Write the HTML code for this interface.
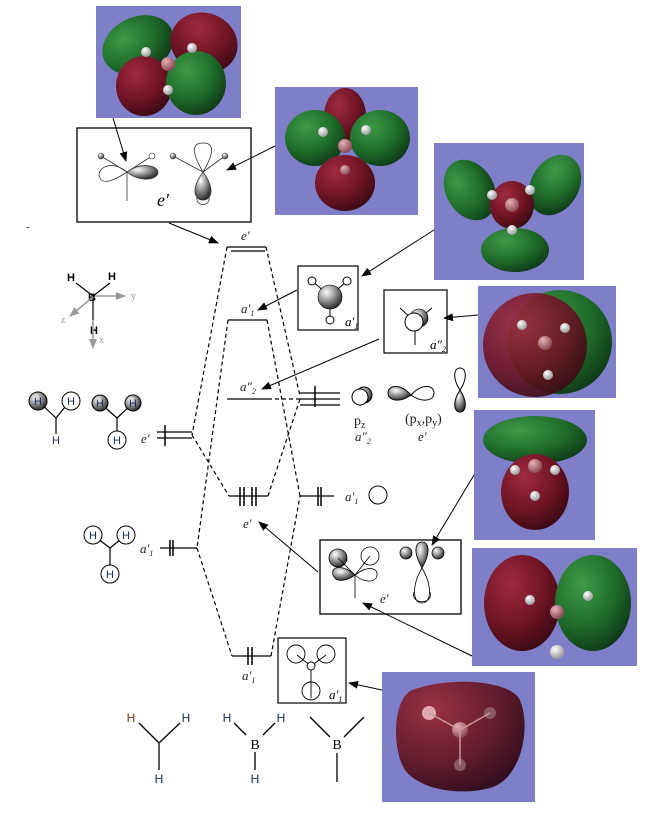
<!DOCTYPE html>
<html><head><meta charset="utf-8"><style>
html,body{margin:0;padding:0;background:#fff;}
svg{display:block;font-family:"Liberation Serif",serif;}
.s{font-family:"Liberation Sans",sans-serif;}
</style></head><body>
<svg width="665" height="816" viewBox="0 0 665 816" xmlns="http://www.w3.org/2000/svg">
<defs>
<radialGradient id="gr" cx="35%" cy="30%" r="75%"><stop offset="0" stop-color="#3e9a46"/><stop offset="0.6" stop-color="#1f6b2a"/><stop offset="1" stop-color="#0f3a18"/></radialGradient>
<radialGradient id="rd" cx="35%" cy="30%" r="75%"><stop offset="0" stop-color="#a02a40"/><stop offset="0.6" stop-color="#6e1424"/><stop offset="1" stop-color="#3a0a14"/></radialGradient>
<radialGradient id="rd2" cx="30%" cy="25%" r="80%"><stop offset="0" stop-color="#9a3046"/><stop offset="0.7" stop-color="#5a1a2a"/><stop offset="1" stop-color="#351020"/></radialGradient>
<radialGradient id="at" cx="35%" cy="30%" r="70%"><stop offset="0" stop-color="#e8b0b8"/><stop offset="1" stop-color="#8a4a56"/></radialGradient>
<radialGradient id="hw" cx="35%" cy="30%" r="70%"><stop offset="0" stop-color="#fff"/><stop offset="1" stop-color="#9a9a9a"/></radialGradient>
<radialGradient id="gs" cx="35%" cy="30%" r="70%"><stop offset="0" stop-color="#fff"/><stop offset="1" stop-color="#333"/></radialGradient>
<marker id="ar" markerWidth="10" markerHeight="8" refX="9" refY="4" orient="auto" markerUnits="userSpaceOnUse"><path d="M0,0 L10,4 L0,8 z" fill="#000"/></marker>
<marker id="ag" markerWidth="10" markerHeight="8" refX="9" refY="4" orient="auto" markerUnits="userSpaceOnUse"><path d="M0,0 L10,4 L0,8 z" fill="#999"/></marker>
</defs>

<!-- purple panels -->
<rect x="96" y="6" width="145" height="112" fill="#7f7fc9"/>
<ellipse cx="138" cy="45" rx="37" ry="28" fill="url(#gr)" transform="rotate(-25 138 45)"/>
<ellipse cx="204" cy="43" rx="34" ry="30" fill="url(#rd)" transform="rotate(20 204 43)"/>
<ellipse cx="144" cy="86" rx="28" ry="30" fill="url(#rd)"/>
<ellipse cx="196" cy="83" rx="30" ry="32" fill="url(#gr)"/>
<circle cx="168" cy="64" r="7" fill="url(#at)"/><circle cx="146" cy="52" r="5" fill="url(#hw)"/><circle cx="192" cy="48" r="5" fill="url(#hw)"/><circle cx="168" cy="90" r="5" fill="url(#hw)"/>

<rect x="275" y="87" width="143" height="128" fill="#7f7fc9"/>
<ellipse cx="345" cy="116" rx="21" ry="28" fill="url(#rd)"/>
<ellipse cx="315" cy="138" rx="30" ry="28" fill="url(#gr)"/>
<ellipse cx="380" cy="138" rx="30" ry="28" fill="url(#gr)"/>
<ellipse cx="345" cy="183" rx="30" ry="28" fill="url(#rd)"/>
<circle cx="345" cy="146" r="7" fill="url(#at)"/><circle cx="323" cy="132" r="5" fill="url(#hw)"/><circle cx="366" cy="130" r="5" fill="url(#hw)"/><circle cx="345" cy="170" r="5" fill="url(#at)"/>

<rect x="434" y="143" width="150" height="137" fill="#7f7fc9"/>
<ellipse cx="470" cy="190" rx="24" ry="32" fill="url(#gr)" transform="rotate(-30 470 190)"/>
<ellipse cx="555" cy="185" rx="24" ry="32" fill="url(#gr)" transform="rotate(30 555 185)"/>
<ellipse cx="515" cy="250" rx="34" ry="22" fill="url(#gr)"/>
<ellipse cx="512" cy="205" rx="22" ry="24" fill="url(#rd)"/>
<circle cx="512" cy="205" r="7" fill="url(#at)"/><circle cx="492" cy="195" r="5" fill="url(#hw)"/><circle cx="530" cy="190" r="5" fill="url(#hw)"/><circle cx="512" cy="230" r="5" fill="url(#hw)"/>

<rect x="478" y="286" width="138" height="112" fill="#7f7fc9"/>
<circle cx="560" cy="342" r="52" fill="url(#gr)"/>
<circle cx="535" cy="345" r="52" fill="url(#rd)" fill-opacity="0.9"/>
<circle cx="545" cy="343" r="7" fill="url(#at)"/><circle cx="522" cy="325" r="5" fill="url(#hw)"/><circle cx="565" cy="328" r="5" fill="url(#hw)"/><circle cx="548" cy="375" r="5" fill="url(#hw)"/>

<rect x="474" y="410" width="121" height="130" fill="#7f7fc9"/>
<ellipse cx="535" cy="440" rx="52" ry="24" fill="url(#gr)"/>
<ellipse cx="535" cy="492" rx="34" ry="38" fill="url(#rd)"/>
<circle cx="535" cy="466" r="7" fill="url(#at)"/><circle cx="515" cy="470" r="5" fill="url(#hw)"/><circle cx="555" cy="470" r="5" fill="url(#hw)"/><circle cx="535" cy="496" r="5" fill="url(#hw)"/>

<rect x="472" y="548" width="165" height="118" fill="#7f7fc9"/>
<ellipse cx="522" cy="603" rx="38" ry="48" fill="url(#rd)"/>
<ellipse cx="593" cy="603" rx="38" ry="48" fill="url(#gr)"/>
<circle cx="557" cy="612" r="7" fill="url(#at)"/><circle cx="530" cy="600" r="5" fill="url(#hw)"/><circle cx="588" cy="596" r="5" fill="url(#hw)"/><circle cx="557" cy="652" r="7" fill="url(#hw)"/>

<rect x="382" y="672" width="153" height="130" fill="#7f7fc9"/>
<path d="M412,690 C450,676 510,680 520,700 C532,730 520,780 490,788 C460,796 420,790 405,770 C392,750 392,700 412,690 z" fill="url(#rd2)"/>
<circle cx="429" cy="713" r="7" fill="#e0a8b0"/><circle cx="460" cy="730" r="8" fill="url(#at)"/><circle cx="490" cy="713" r="6" fill="#8a5a62"/><circle cx="460" cy="765" r="6" fill="#8a5a62"/>
<line x1="429" y1="713" x2="460" y2="730" stroke="#c99" stroke-width="1.5"/><line x1="460" y1="730" x2="490" y2="713" stroke="#c99" stroke-width="1.5"/><line x1="460" y1="730" x2="460" y2="765" stroke="#c99" stroke-width="1.5"/>

<!-- box 1 (e' antibonding) -->
<rect x="77" y="128" width="174" height="94" fill="#fff" stroke="#000" stroke-width="1.3"/>
<g stroke="#333" fill="none" stroke-width="0.8">
<line x1="101" y1="156" x2="127" y2="172"/><line x1="152" y1="156" x2="127" y2="172"/><line x1="127" y1="172" x2="127" y2="201"/>
<path d="M127,172 C110,158 95,170 100,178 C104,186 118,178 127,172z"/>
<line x1="173" y1="156" x2="203" y2="172"/><line x1="225" y1="156" x2="203" y2="172"/>
<path d="M203,172 C190,150 193,143 203,143 C213,143 216,150 203,172z"/>
<path d="M197,197 C195,207 211,207 209,197"/>
</g>
<path d="M127,172 C140,162 157,165 158,172 C158,180 140,183 127,172z" fill="url(#gs)" stroke="#333" stroke-width="0.8"/>
<path d="M203,172 C190,190 195,200 203,200 C211,200 216,190 203,172z" fill="url(#gs)" stroke="#333" stroke-width="0.8"/>
<circle cx="101" cy="156" r="3" fill="url(#gs)" stroke="#333" stroke-width="0.5"/><circle cx="152" cy="156" r="3" fill="#fff" stroke="#333" stroke-width="0.6"/>
<circle cx="173" cy="156" r="3" fill="url(#gs)" stroke="#333" stroke-width="0.5"/><circle cx="225" cy="156" r="3" fill="url(#gs)" stroke="#333" stroke-width="0.5"/>
<text x="157" y="206" font-size="18" font-style="italic">e′</text>

<!-- a1' box -->
<rect x="298" y="266" width="60" height="64" fill="#fff" stroke="#000" stroke-width="1.2"/>
<line x1="312" y1="281" x2="330" y2="296" stroke="#000"/><line x1="347" y1="281" x2="330" y2="296" stroke="#000"/><line x1="330" y1="296" x2="330" y2="320" stroke="#000"/>
<circle cx="330" cy="297" r="12" fill="url(#gs)" stroke="#000" stroke-width="0.6"/>
<circle cx="312" cy="281" r="4" fill="#fff" stroke="#000"/><circle cx="347" cy="281" r="4" fill="#fff" stroke="#000"/><circle cx="330" cy="320" r="4" fill="#fff" stroke="#000"/>
<text x="345" y="326" font-size="13" font-style="italic">a′<tspan font-size="8" dy="3">1</tspan></text>

<!-- a2'' box -->
<rect x="384" y="290" width="63" height="63" fill="#fff" stroke="#000" stroke-width="1.2"/>
<line x1="400" y1="308" x2="415" y2="322" stroke="#000"/><line x1="432" y1="308" x2="415" y2="322" stroke="#000"/><line x1="415" y1="322" x2="415" y2="345" stroke="#000"/>
<circle cx="419" cy="318" r="9" fill="url(#gs)" stroke="#000" stroke-width="0.6"/>
<circle cx="414" cy="322" r="9" fill="#fff" stroke="#000"/>
<text x="430" y="349" font-size="13" font-style="italic">a″<tspan font-size="8" dy="3">2</tspan></text>

<!-- e' box bottom -->
<rect x="320" y="540" width="141" height="74" fill="#fff" stroke="#000" stroke-width="1.3"/>
<g stroke="#000" stroke-width="0.8">
<line x1="355" y1="575" x2="355" y2="598"/>
<path d="M355,575 C345,565 330,565 333,575 C336,584 348,580 355,575z" fill="url(#gs)"/>
<path d="M355,575 C368,565 378,568 377,575 C376,584 362,582 355,575z" fill="#fff"/>
<circle cx="338" cy="558" r="9" fill="url(#gs)"/><circle cx="370" cy="556" r="9" fill="#fff"/>
<line x1="338" y1="558" x2="355" y2="575"/><line x1="370" y1="556" x2="355" y2="575"/>
<path d="M422,568 C412,550 416,542 422,542 C428,542 432,550 422,568z" fill="url(#gs)"/>
<circle cx="406" cy="553" r="6" fill="url(#gs)"/><circle cx="438" cy="553" r="6" fill="url(#gs)"/>
<path d="M422,568 C412,585 412,603 422,603 C432,603 432,585 422,568z" fill="#fff"/>
<path d="M414,592 C410,605 434,605 430,592" fill="none"/>
</g>
<text x="380" y="603" font-size="13" font-style="italic" fill="#223">e′</text>

<!-- a1' bottom box -->
<rect x="278" y="638" width="68" height="65" fill="#fff" stroke="#000" stroke-width="1.2"/>
<g stroke="#000" fill="#fff" stroke-width="0.9">
<line x1="297" y1="655" x2="311" y2="666"/><line x1="326" y1="655" x2="311" y2="666"/><line x1="311" y1="666" x2="311" y2="698"/>
<circle cx="296" cy="654" r="9" fill="none"/><circle cx="326" cy="654" r="9" fill="none"/><circle cx="311" cy="691" r="9" fill="none"/><circle cx="311" cy="666" r="4"/>
</g>
<text x="329" y="699" font-size="13" font-style="italic">a′<tspan font-size="8" dy="3">1</tspan></text>

<!-- arrows from panels -->
<g stroke="#000" stroke-width="1" fill="none">
<line x1="113" y1="118" x2="126" y2="161" marker-end="url(#ar)"/>
<line x1="275" y1="146" x2="227" y2="170" marker-end="url(#ar)"/>
<line x1="169" y1="223" x2="218" y2="243" marker-end="url(#ar)"/>
<line x1="434" y1="230" x2="362" y2="276" marker-end="url(#ar)"/>
<line x1="297" y1="290" x2="258" y2="310" marker-end="url(#ar)"/>
<line x1="478" y1="315" x2="444" y2="318" marker-end="url(#ar)"/>
<line x1="379" y1="339" x2="262" y2="389" marker-end="url(#ar)"/>
<line x1="474" y1="475" x2="432" y2="545" marker-end="url(#ar)"/>
<line x1="318" y1="572" x2="259" y2="522" marker-end="url(#ar)"/>
<line x1="472" y1="656" x2="363" y2="603" marker-end="url(#ar)"/>
<line x1="382" y1="690" x2="349" y2="683" marker-end="url(#ar)"/>
</g>

<!-- levels -->
<g stroke="#000" stroke-width="1.3">
<line x1="227" y1="247" x2="266" y2="247"/><line x1="231" y1="251" x2="265" y2="251"/>
<line x1="228" y1="320" x2="267" y2="320"/>
<line x1="227" y1="399" x2="268" y2="399"/>
<line x1="229" y1="496" x2="268" y2="496"/>
<line x1="232" y1="656" x2="271" y2="656"/>
<line x1="157" y1="432" x2="192" y2="432"/><line x1="157" y1="438" x2="192" y2="438"/>
<line x1="160" y1="548" x2="197" y2="548"/>
<line x1="300" y1="393" x2="340" y2="393"/><line x1="300" y1="399" x2="340" y2="399"/><line x1="300" y1="405" x2="340" y2="405"/>
<line x1="300" y1="496" x2="334" y2="496"/>
</g>
<!-- electrons -->
<g stroke="#000" stroke-width="1.5">
<line x1="240" y1="487" x2="240" y2="506"/><line x1="244" y1="487" x2="244" y2="506"/>
<line x1="252" y1="487" x2="252" y2="506"/><line x1="256" y1="487" x2="256" y2="506"/>
<line x1="248" y1="647" x2="248" y2="665"/><line x1="252" y1="647" x2="252" y2="665"/>
<line x1="318" y1="487" x2="318" y2="506"/><line x1="321" y1="487" x2="321" y2="506"/>
<line x1="165" y1="425" x2="165" y2="446"/>
<line x1="170" y1="540" x2="170" y2="556"/><line x1="173" y1="540" x2="173" y2="556"/>
<line x1="315" y1="386" x2="315" y2="407"/>
</g>
<!-- dashed correlation lines -->
<g stroke="#000" stroke-width="1.2" stroke-dasharray="4,3" fill="none">
<line x1="227" y1="247" x2="192" y2="435"/>
<line x1="266" y1="247" x2="300" y2="396"/>
<line x1="228" y1="320" x2="197" y2="548"/>
<line x1="267" y1="320" x2="300" y2="496"/>
<line x1="268" y1="399" x2="300" y2="399"/>
<line x1="192" y1="435" x2="229" y2="496"/>
<line x1="268" y1="496" x2="300" y2="399"/>
<line x1="197" y1="548" x2="232" y2="656"/>
<line x1="271" y1="656" x2="300" y2="496"/>
</g>

<!-- level labels -->
<g font-size="13" font-style="italic" fill="#223">
<text x="241" y="240">e′</text>
<text x="241" y="313">a′<tspan font-size="8" dy="3">1</tspan></text>
<text x="240" y="391">a″<tspan font-size="8" dy="3">2</tspan></text>
<text x="243" y="528">e′</text>
<text x="242" y="680">a′<tspan font-size="8" dy="3">1</tspan></text>
<text x="141" y="443">e′</text>
<text x="140" y="553">a′<tspan font-size="8" dy="3">1</tspan></text>
<text x="345" y="501">a′<tspan font-size="8" dy="3">1</tspan></text>
<text x="355" y="441">a″<tspan font-size="8" dy="3">2</tspan></text>
<text x="418" y="441">e′</text>
</g>
<text x="354" y="425" font-size="14" fill="#222">p<tspan font-size="10" dy="3">z</tspan></text>
<text x="405" y="423" font-size="14" fill="#222">(p<tspan font-size="10" dy="3">x</tspan><tspan dy="-3">,p</tspan><tspan font-size="10" dy="3">y</tspan><tspan dy="-3">)</tspan></text>

<!-- right atomic orbitals -->
<circle cx="364" cy="395" r="8" fill="url(#gs)" stroke="#000"/><circle cx="360" cy="397" r="8" fill="#fff" stroke="#000"/>
<path d="M411,395 C400,383 388,385 388,393 C388,401 400,403 411,395z" fill="url(#gs)" stroke="#000"/>
<path d="M411,395 C422,383 434,385 434,393 C434,401 422,403 411,395z" fill="#fff" stroke="#000"/>
<path d="M460,390 C452,378 454,368 460,368 C466,368 468,378 460,390z" fill="#fff" stroke="#000"/>
<path d="M460,390 C452,402 454,412 460,412 C466,412 468,402 460,390z" fill="url(#gs)" stroke="#000"/>
<circle cx="378" cy="495" r="9" fill="#fff" stroke="#000"/>

<!-- axes -->
<g class="s" font-weight="bold" font-size="11">
<line x1="76" y1="283" x2="93" y2="296" stroke="#000" stroke-width="1.2"/><line x1="110" y1="283" x2="93" y2="296" stroke="#000" stroke-width="1.2"/><line x1="93" y1="296" x2="93" y2="320" stroke="#000" stroke-width="1.2"/>
<text x="67" y="281">H</text><text x="108" y="280">H</text><text x="90" y="334">H</text><text x="88" y="301">B</text>
</g>
<line x1="95" y1="296" x2="125" y2="296" stroke="#999" stroke-width="1.5" marker-end="url(#ag)"/>
<line x1="93" y1="297" x2="70" y2="316" stroke="#999" stroke-width="1.5" marker-end="url(#ag)"/>
<line x1="93" y1="320" x2="93" y2="348" stroke="#999" stroke-width="1.5" marker-end="url(#ag)"/>
<g font-size="10" fill="#999"><text x="131" y="299">y</text><text x="61" y="323">z</text><text x="99" y="343">x</text></g>

<!-- left fragment orbitals -->
<g class="s" font-size="11" stroke="#000">
<line x1="38" y1="401" x2="56" y2="418" stroke-width="1.2"/><line x1="70" y1="401" x2="56" y2="418" stroke-width="1.2"/><line x1="56" y1="418" x2="56" y2="434" stroke-width="1.2"/>
<circle cx="38" cy="401" r="9" fill="url(#gs)"/><circle cx="71" cy="401" r="9" fill="#fff"/>
<line x1="100" y1="403" x2="117" y2="418" stroke-width="1.2"/><line x1="133" y1="403" x2="117" y2="418" stroke-width="1.2"/><line x1="117" y1="418" x2="117" y2="432" stroke-width="1.2"/>
<circle cx="100" cy="403" r="8" fill="url(#gs)"/><circle cx="133" cy="403" r="8" fill="url(#gs)"/><circle cx="117" cy="440" r="9" fill="#fff"/>
<line x1="93" y1="535" x2="110" y2="548" stroke-width="1.2"/><line x1="126" y1="535" x2="110" y2="548" stroke-width="1.2"/><line x1="110" y1="548" x2="110" y2="565" stroke-width="1.2"/>
<circle cx="93" cy="535" r="9" fill="#fff"/><circle cx="126" cy="535" r="9" fill="#fff"/><circle cx="110" cy="574" r="9" fill="#fff"/>
</g>
<g class="s" font-size="11" fill="#1a2a5a" text-anchor="middle">
<text x="38" y="405">H</text><text x="71" y="405">H</text><text x="56" y="444">H</text>
<text x="100" y="407">H</text><text x="133" y="407">H</text><text x="117" y="444">H</text>
<text x="93" y="539">H</text><text x="126" y="539">H</text><text x="110" y="578">H</text>
</g>

<!-- bottom structures -->
<g stroke="#000" stroke-width="1.3">
<line x1="139" y1="723" x2="159" y2="743"/><line x1="180" y1="723" x2="159" y2="743"/><line x1="159" y1="743" x2="159" y2="770"/>
<line x1="234" y1="723" x2="246" y2="735"/><line x1="275" y1="723" x2="263" y2="735"/><line x1="255" y1="752" x2="255" y2="770"/>
<line x1="310" y1="717" x2="330" y2="737"/><line x1="364" y1="717" x2="344" y2="737"/><line x1="337" y1="753" x2="337" y2="782"/>
</g>
<g class="s" font-size="12" text-anchor="middle">
<text x="131" y="722" fill="#7a3a10">H</text><text x="186" y="722" fill="#1a2a5a">H</text><text x="159" y="783" fill="#1a2a5a">H</text>
<text x="227" y="722" fill="#1a2a5a">H</text><text x="281" y="722" fill="#1a2a5a">H</text><text x="255" y="783" fill="#1a2a5a">H</text>
</g>
<text x="255" y="749" font-size="14" text-anchor="middle">B</text>
<text x="337" y="749" font-size="14" text-anchor="middle">B</text>
<text x="26" y="230" font-size="10">-</text>
</svg>
</body></html>
